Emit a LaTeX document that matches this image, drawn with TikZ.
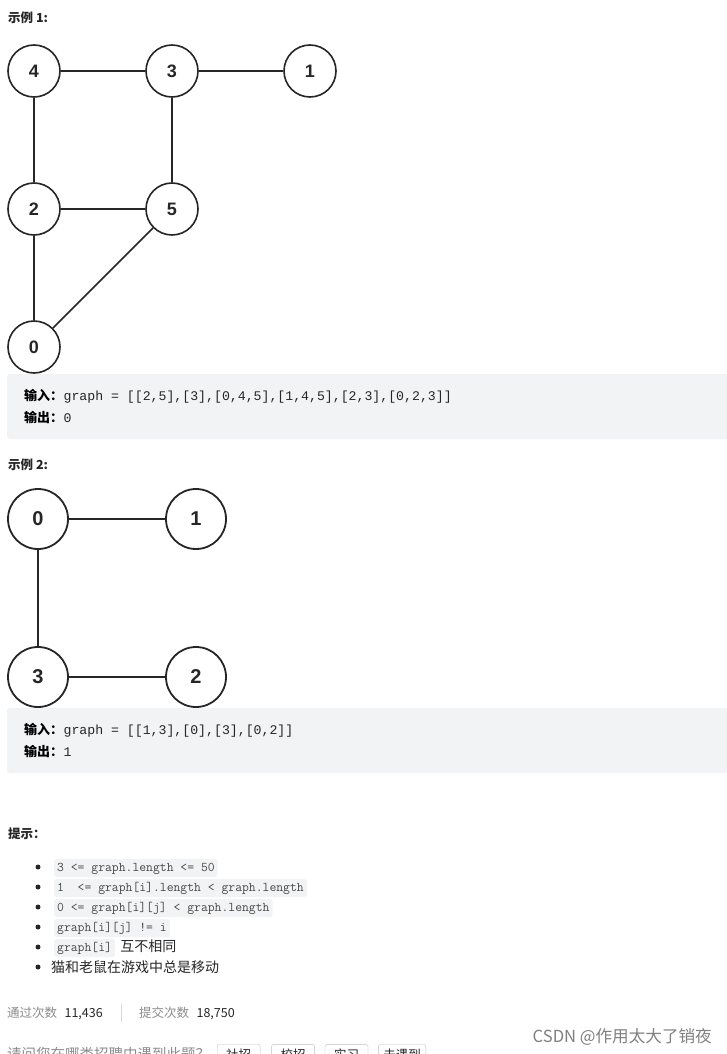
\documentclass[tikz,border=0pt]{standalone}
\usepackage{fontspec}
\setmainfont{Liberation Sans}
\newfontfamily\cjk{Noto Sans CJK SC}
\newfontfamily\codemono{Liberation Mono}
\definecolor{codebg}{HTML}{F2F3F5}
\definecolor{ink}{HTML}{262626}
\definecolor{soft}{HTML}{8C8C8C}
\begin{document}
\begin{tikzpicture}[x=1pt,y=-1pt,
  vtxa/.style={circle,draw=ink,line width=1.6pt,minimum size=52pt,inner sep=0pt,fill=white,font=\bfseries\fontsize{18}{18}\selectfont,text=ink},
  vtxb/.style={circle,draw=ink,line width=1.8pt,minimum size=60pt,inner sep=0pt,fill=white,font=\bfseries\fontsize{20}{20}\selectfont,text=ink},
  edge/.style={draw=ink,line width=1.6pt},
  heading/.style={anchor=base west,inner sep=0pt,font=\cjk\bfseries\fontsize{12.5}{12.5}\selectfont,text=ink},
  iolabel/.style={anchor=base west,inner sep=0pt,font=\cjk\bfseries\fontsize{13}{13}\selectfont,text=black},
  iocode/.style={anchor=base west,inner sep=0pt,font=\codemono\fontsize{13.2}{13.2}\selectfont,text=ink},
  iobox/.style={fill=codebg,draw=none,rounded corners=3pt},
  hintcode/.style={anchor=base west,fill=codebg,rounded corners=2.5pt,inner xsep=3pt,inner ysep=3pt,text height=9pt,text depth=3pt,font=\ttfamily\fontsize{13.3}{13.3}\selectfont,text=ink!85},
  hinttext/.style={anchor=base west,inner sep=0pt,font=\cjk\fontsize{14}{14}\selectfont,text=ink},
  bulletdot/.style={circle,fill=ink,inner sep=0pt,minimum size=5pt},
  stat/.style={anchor=base west,inner sep=0pt,font=\cjk\fontsize{12.5}{12.5}\selectfont},
  btn/.style={anchor=base west,draw=black!25,rounded corners=2pt,inner xsep=5pt,inner ysep=4pt,font=\cjk\fontsize{12.5}{12.5}\selectfont,text=ink}
]
\useasboundingbox (0,0) rectangle (727,1054);
\clip (0,0) rectangle (727,1054);
\fill[white] (0,0) rectangle (727,1054);

% Example 1
\node[heading] (h1) at (8,23) {示例 1:};
\node[vtxa] (n4) at (34,71) {4};
\node[vtxa] (n3) at (172,71) {3};
\node[vtxa] (n1) at (310,71) {1};
\node[vtxa] (n2) at (34,209) {2};
\node[vtxa] (n5) at (172,209) {5};
\node[vtxa] (n0) at (34,347) {0};
\draw[edge] (n4) -- (n3);
\draw[edge] (n3) -- (n1);
\draw[edge] (n4) -- (n2);
\draw[edge] (n3) -- (n5);
\draw[edge] (n2) -- (n5);
\draw[edge] (n2) -- (n0);
\draw[edge] (n5) -- (n0);

\fill[iobox] (7,374) rectangle (740,439);
\node[iolabel] (in1) at (24,400) {输入：};
\node[iocode] (ic1) at (in1.base east) {graph = [[2,5],[3],[0,4,5],[1,4,5],[2,3],[0,2,3]]};
\node[iolabel] (out1) at (24,422) {输出：};
\node[iocode] (oc1) at (out1.base east) {0};

% Example 2
\node[heading] (h2) at (8,469) {示例 2:};
\node[vtxb] (m0) at (38,519) {0};
\node[vtxb] (m1) at (196,519) {1};
\node[vtxb] (m3) at (38,677) {3};
\node[vtxb] (m2) at (196,677) {2};
\draw[edge] (m0) -- (m1);
\draw[edge] (m0) -- (m3);
\draw[edge] (m3) -- (m2);

\fill[iobox] (7,708) rectangle (740,773);
\node[iolabel] (in2) at (24,734) {输入：};
\node[iocode] (ic2) at (in2.base east) {graph = [[1,3],[0],[3],[0,2]]};
\node[iolabel] (out2) at (24,756) {输出：};
\node[iocode] (oc2) at (out2.base east) {1};

% Hints
\node[heading] (h3) at (8,838) {提示：};
\foreach \yy in {867,887,907,927,947,967} {
  \node[bulletdot] at (38,\yy) {};
}
\node[hintcode] (c1) at (54,871) {3 <= graph.length <= 50};
\node[hintcode] (c2) at (54,891) {1~~<= graph[i].length < graph.length};
\node[hintcode] (c3) at (54,911) {0 <= graph[i][j] < graph.length};
\node[hintcode] (c4) at (54,931) {graph[i][j] != i};
\node[hintcode] (c5) at (54,951) {graph[i]};
\node[hinttext] (t5) at ([xshift=5pt]c5.base east) {互不相同};
\node[hinttext] (t6) at (51,972) {猫和老鼠在游戏中总是移动};

% Stats
\node[stat,text=soft] (s1) at (7,1017) {通过次数};
\node[stat,text=ink] (s1v) at ([xshift=7pt]s1.base east) {11,436};
\draw[black!15,line width=0.8pt] (121,1004) -- (121,1022);
\node[stat,text=soft] (s2) at (139,1017) {提交次数};
\node[stat,text=ink] (s2v) at ([xshift=7pt]s2.base east) {18,750};

\node[anchor=base east,inner sep=0pt,font=\cjk\fontsize{16.6}{16.6}\selectfont,text=black!50] (wm) at (712,1042) {CSDN @作用太大了销夜};

% clipped last line
\node[anchor=base west,inner sep=0pt,font=\cjk\fontsize{14.5}{14.5}\selectfont,text=soft] (q) at (7,1059) {请问您在哪类招聘中遇到此题？};
\node[btn,minimum width=43pt] (b1) at (217,1059) {社招};
\node[btn,minimum width=43pt] (b2) at ([xshift=11pt]b1.base east) {校招};
\node[btn,minimum width=43pt] (b3) at ([xshift=10pt]b2.base east) {实习};
\node[btn,minimum width=47pt] (b4) at ([xshift=10pt]b3.base east) {未遇到};
\end{tikzpicture}
\end{document}
